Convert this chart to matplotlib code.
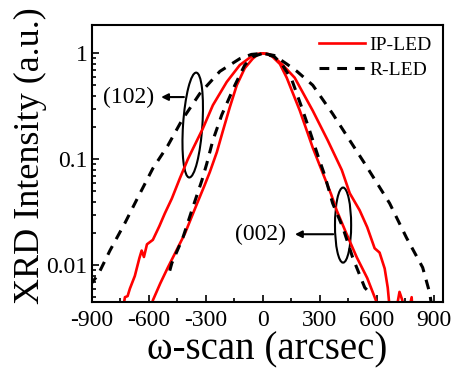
import matplotlib
matplotlib.use('Agg')
import matplotlib.pyplot as plt
from matplotlib.patches import Ellipse
from matplotlib.ticker import FixedLocator, LogLocator, NullFormatter

plt.rcParams['font.family'] = ['Liberation Serif', 'DejaVu Serif']

# omega-scan positions (arcsec) and normalised intensities
ip102_x = [-740, -726, -712, -700, -674, -650, -638, -626, -610, -579, -545, -516, -479, -437,
           -395, -368, -316, -263, -190, -121, -53, -25, 0, 25, 50, 105, 168, 263, 342, 416,
           458, 510, 550, 589, 615, 642, 658, 668, 690, 705, 720, 735, 748, 770, 784, 795]
ip102_y = [0.00355, 0.00501, 0.00513, 0.00603, 0.00794, 0.0117, 0.0138, 0.0120, 0.0158, 0.0174,
           0.0234, 0.0309, 0.0427, 0.0661, 0.100, 0.126, 0.195, 0.324, 0.537, 0.776, 0.955, 0.99,
           1.0, 0.99, 0.955, 0.776, 0.589, 0.288, 0.151, 0.0794, 0.0479, 0.0331, 0.0229, 0.0145,
           0.0132, 0.00933, 0.00617, 0.00398, 0.00251, 0.00398, 0.00562, 0.00468, 0.00251,
           0.00380, 0.00501, 0.00251]

ip002_x = [-590, -579, -540, -500, -455, -410, -347, -310, -279, -242, -210, -174, -137, -95,
           -53, -25, 0, 25, 50, 90, 126, 195, 263, 316, 360, 389, 440, 495, 550, 600, 610]
ip002_y = [0.00355, 0.00468, 0.00676, 0.00955, 0.0138, 0.0200, 0.0380, 0.0550, 0.0759, 0.117,
           0.186, 0.309, 0.501, 0.724, 0.891, 0.98, 1.0, 0.98, 0.933, 0.794, 0.589, 0.288, 0.129,
           0.0741, 0.0468, 0.0331, 0.0200, 0.0119, 0.00759, 0.00447, 0.00355]

r102_x = [-910, -868, -805, -726, -658, -579, -500, -426, -332, -226, -121, -60, 0, 60, 126,
          180, 263, 368, 458, 537, 600, 668, 757, 842, 879, 895]
r102_y = [0.00650, 0.00813, 0.0138, 0.0251, 0.0437, 0.0822, 0.135, 0.234, 0.417, 0.676, 0.891,
          0.977, 1.0, 0.955, 0.794, 0.676, 0.501, 0.269, 0.151, 0.0912, 0.0603, 0.0385, 0.0182,
          0.00955, 0.00550, 0.00355]

r002_x = [-490, -479, -421, -368, -321, -295, -263, -216, -147, -95, -50, 0, 60, 100, 153, 205,
          247, 289, 326, 368, 421, 473, 537, 563]
r002_y = [0.00891, 0.0105, 0.0182, 0.0355, 0.0631, 0.0912, 0.151, 0.263, 0.501, 0.776, 0.933,
          1.0, 0.933, 0.794, 0.562, 0.309, 0.186, 0.110, 0.0708, 0.0385, 0.0229, 0.0119, 0.00617,
          0.00550]

x_ticks = [-900, -600, -300, 0, 300, 600, 900]
y_ticks = [1, 0.1, 0.01]
y_tick_labels = ['1', '0.1', '0.01']

fig = plt.figure(figsize=(4.55, 3.68), dpi=100)
ax = fig.add_axes([0.202, 0.179, 0.772, 0.753])

red = '#ff0000'
dash = (3.2, 2.6)
ax.plot(ip102_x, ip102_y, color=red, lw=1.9, label='IP-LED')
ax.plot(ip002_x, ip002_y, color=red, lw=1.9)
ax.plot(r102_x, r102_y, color='k', lw=2.2, dashes=dash, label='R-LED')
ax.plot(r002_x, r002_y, color='k', lw=2.2, dashes=dash)

ax.set_yscale('log')
ax.set_xlim(-900, 950)
ax.set_ylim(0.0045, 1.85)

ax.xaxis.set_major_locator(FixedLocator(x_ticks))
ax.xaxis.set_minor_locator(FixedLocator([-750, -450, -150, 150, 450, 750]))
ax.set_xticklabels([str(t) for t in x_ticks])
ax.yaxis.set_major_locator(FixedLocator(y_ticks))
ax.set_yticklabels(y_tick_labels)
ax.yaxis.set_minor_locator(LogLocator(base=10, subs=range(2, 10)))
ax.yaxis.set_minor_formatter(NullFormatter())

ax.tick_params(which='both', direction='in', top=False, right=False, width=1.2, labelsize=17)
ax.tick_params(which='major', length=5)
ax.tick_params(axis='x', which='major', pad=6)
ax.tick_params(axis='y', which='major', pad=3)
ax.tick_params(which='minor', length=3)
for s in ax.spines.values():
    s.set_linewidth(1.5)

ax.set_xlabel('ω-scan (arcsec)', fontsize=28, labelpad=0)
ax.set_ylabel('XRD Intensity (a.u.)', fontsize=26, labelpad=0)
ax.yaxis.label.set_y(0.53)

ax.legend(loc='upper right', frameon=False, fontsize=14, handlelength=2.4,
          handletextpad=0.2, labelspacing=0.35, borderaxespad=0.2)

# group markers
ax.add_patch(Ellipse((0.287, 0.639), 0.055, 0.379, angle=-3, transform=ax.transAxes,
                     fill=False, lw=1.5, ec='k'))
ax.add_patch(Ellipse((0.715, 0.278), 0.046, 0.271, angle=0, transform=ax.transAxes,
                     fill=False, lw=1.5, ec='k'))
ax.text(0.105, 0.740, '(102)', transform=ax.transAxes, fontsize=17, ha='center', va='center')
ax.text(0.481, 0.245, '(002)', transform=ax.transAxes, fontsize=17, ha='center', va='center')
arrow = dict(arrowstyle='-|>', lw=1.5, color='k', mutation_scale=10, shrinkA=0, shrinkB=0)
ax.annotate('', xy=(0.197, 0.740), xytext=(0.262, 0.740), xycoords='axes fraction',
            textcoords='axes fraction', arrowprops=arrow)
ax.annotate('', xy=(0.578, 0.245), xytext=(0.687, 0.245), xycoords='axes fraction',
            textcoords='axes fraction', arrowprops=arrow)

fig.savefig('out.png', dpi=100)
